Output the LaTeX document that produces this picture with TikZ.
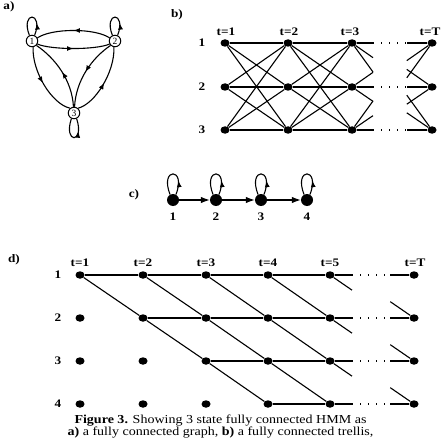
\documentclass[tikz,border=0pt]{standalone}
\usepackage{fontspec}
\setmainfont{Liberation Serif}
\usetikzlibrary{arrows.meta,decorations.markings,shapes.geometric,calc}
\tikzset{
  lab/.style={font=\fontsize{11.5pt}{13pt}\selectfont\bfseries, inner sep=0pt, xscale=1.15},
  captxt/.style={font=\fontsize{12.2pt}{12pt}\selectfont, inner sep=0pt, anchor=base, xscale=1.15},
  dot/.style={ellipse, fill=black, inner sep=0pt, minimum width=9pt, minimum height=7.5pt},
  bigdot/.style={circle, fill=black, inner sep=0pt, minimum size=12pt},
  anode/.style={circle, draw, line width=1pt, inner sep=0pt, minimum size=11.5pt, font=\fontsize{9.5pt}{9.5pt}\selectfont},
  edge/.style={line width=1.1pt},
  dotline/.style={line width=1.2pt, dash pattern=on 1.3pt off 6.7pt},
  midarrow/.style={decoration={markings, mark=at position #1 with {\arrow{Latex[length=6.5pt,width=5pt]}}}, postaction={decorate}},
  midarrow/.default=0.5,
}
\begin{document}
\begin{tikzpicture}[x=1pt,y=-1pt]
\useasboundingbox (0,0) rectangle (444,441);
% ---------------- panel a
\node[lab] (la) at (9,7) {a)};
\node[anode] (n1) at (32,41) {1};
\node[anode] (n2) at (115,41) {2};
\node[anode] (n3) at (74,113) {3};
\draw[edge,midarrow=0.3] (n1.65) .. controls (44,11) and (20,11) .. (n1.115);
\draw[edge,midarrow=0.3] (n2.65) .. controls (127,11) and (103,11) .. (n2.115);
\draw[edge,midarrow=0.7] (n3.-115) .. controls (63,144) and (85,144) .. (n3.-65);
\draw[edge,midarrow] (n2.150) .. controls (95,28) and (52,28) .. (n1.30);
\draw[edge,midarrow] (n1.-30) .. controls (52,50) and (95,50) .. (n2.-150);
\draw[edge,midarrow] (n1.-80) .. controls (32,72) and (52,104) .. (n3.130);
\draw[edge,midarrow] (n3.95) .. controls (72,80) and (55,58) .. (n1.-45);
\draw[edge,midarrow] (n2.-135) .. controls (92,58) and (76,80) .. (n3.85);
\draw[edge,midarrow] (n3.50) .. controls (95,104) and (115,72) .. (n2.-100);
% ---------------- panel b
\node[lab] (lb) at (177,15) {b)};
\foreach \c/\x in {1/225,2/288,3/352,T/432}{
  \foreach \r/\y in {1/43,2/87,3/130}{
    \node[dot] (b\c\r) at (\x,\y) {};
  }
}
\foreach \r/\y in {1/43,2/87,3/130}{
  \coordinate (bv\r) at (415,\y);
  \coordinate (bu\r) at (369,\y);
  \coordinate (bs\r) at (373,\y);
  \coordinate (be\r) at (407,\y);
  \node[lab] (br\r) at (202,\y) {\r};
}
\node[lab] (bt1) at (226,32) {t=1};
\node[lab] (bt2) at (289,32) {t=2};
\node[lab] (bt3) at (350,32) {t=3};
\node[lab] (btT) at (430,32) {t=T};
\foreach \i in {1,2,3}{
  \foreach \j in {1,2,3}{
    \draw[edge] (b1\i) -- (b2\j);
    \draw[edge] (b2\i) -- (b3\j);
    \draw[edge] (b3\i) -- ($(b3\i)!1/3!(bv\j)$);
    \draw[edge] (bT\i) -- ($(bu\j)!0.6!(bT\i)$);
  }
  \draw[dotline] (bs\i) -- (be\i);
}
% ---------------- panel c
\node[lab] (lc) at (134,195) {c)};
\foreach \k/\x in {1/173,2/216,3/261,4/307}{
  \node[bigdot] (c\k) at (\x,200) {};
  \node[lab] (cl\k) at (\x,217) {\k};
  \draw[edge,midarrow=0.3] (c\k.62) .. controls (\x+14,167) and (\x-14,167) .. (c\k.118);
}
\foreach \a/\b in {1/2,2/3,3/4}{
  \draw[edge,-{Latex[length=9pt,width=6.5pt]}] (c\a) -- (c\b);
}
% ---------------- panel d
\node[lab] (ld) at (14,260) {d)};
\foreach \c/\x in {1/80,2/143,3/206,4/268,5/330,T/414}{
  \foreach \r/\y in {1/275,2/318,3/361,4/404}{
    \node[dot] (d\c\r) at (\x,\y) {};
  }
}
\foreach \r/\y in {1/275,2/318,3/361,4/404}{
  \coordinate (dv\r) at (392.5,\y);
  \coordinate (du\r) at (351.5,\y);
  \coordinate (ds\r) at (352,\y);
  \coordinate (de\r) at (390,\y);
  \node[lab] (dr\r) at (58,\y) {\r};
  \draw[edge] (d5\r) -- (ds\r);
  \draw[dotline] (ds\r) -- (de\r);
  \draw[edge] (de\r) -- (dT\r);
}
\foreach \c/\x in {1/80,2/143,3/206,4/268,5/330}{
  \node[lab] (dt\c) at (\x,263) {t=\c};
}
\node[lab] (dtT) at (415,263) {t=T};
\foreach \a/\b in {11/21,21/31,31/41,41/51,22/32,32/42,42/52,33/43,43/53,44/54,
                   11/22,21/32,22/33,31/42,32/43,33/44,41/52,42/53,43/54}{
  \draw[edge] (d\a) -- (d\b);
}
\foreach \r/\s in {1/2,2/3,3/4}{
  \draw[edge] (d5\r) -- ($(d5\r)!0.352!(dv\s)$);
  \draw[edge] (dT\s) -- ($(du\r)!0.62!(dT\s)$);
}
% ---------------- caption
\node[captxt] (cap1) at (220.5,423) {\textbf{Figure 3.} Showing 3 state fully connected HMM as};
\node[captxt] (cap2) at (220.5,435.5) {\textbf{a)} a fully connected graph, \textbf{b)} a fully connected trellis,};
\end{tikzpicture}
\end{document}
